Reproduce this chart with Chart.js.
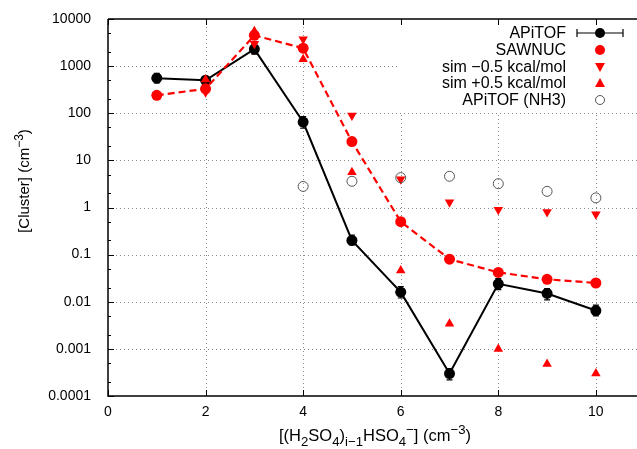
<!DOCTYPE html>
<html>
<head>
<meta charset="utf-8">
<script src="https://cdn.jsdelivr.net/npm/chart.js@4.4.0/dist/chart.umd.min.js"></script>
<style>
  html, body { margin: 0; padding: 0; background: #fff; }
  #wrap { width: 637px; height: 449px; }
</style>
</head>
<body>
<div id="wrap"><canvas id="myChart" width="637" height="449"></canvas></div>
<script>
// cluster size i
let sizes = [1, 2, 3, 4, 5, 6, 7, 8, 9, 10];
let apitof = [556, 500, 2300, 65, 0.2, 0.016, 0.0003, 0.024, 0.015, 0.0065];
let apitofLow = [440, 410, 1800, 48, 0.16, 0.012, 0.00022, 0.018, 0.011, 0.005];
let apitofHigh = [700, 610, 2900, 85, 0.26, 0.021, 0.00038, 0.031, 0.019, 0.0085];
let sawnuc = [240, 330, 4500, 2400, 25, 0.5, 0.08, 0.042, 0.030, 0.025];
let simMinus = [null, 280, 3000, 3700, 90, 4, 1.3, 0.9, 0.8, 0.72];
let simPlus = [null, 520, 5500, 1400, 5.6, 0.046, 0.0034, 0.001, 0.00048, 0.0003];
let nh3Sizes = [4, 5, 6, 7, 8, 9, 10];
let apitofNH3 = [2.8, 3.6, 4.3, 4.6, 3.2, 2.2, 1.6];
let xTicks = [0, 2, 4, 6, 8, 10];
let yTicks = [0.0001, 0.001, 0.01, 0.1, 1, 10, 100, 1000, 10000];

let pts = (xs, ys) => xs.map((x, i) => ({ x: x, y: ys[i] })).filter(p => p.y != null);

let FONT = '"Liberation Sans", Arial, sans-serif';
let legendBox = { x: 398, y: 19, w: 240, h: 92 };

// draw pieces of text with sub/superscripts, returns total width
function richText(c, parts, x, y, size, measureOnly) {
  let w = 0;
  parts.forEach(p => {
    let s = p.s ? size * 0.8 : size;
    c.font = s + 'px ' + FONT;
    let dy = p.s == 'sub' ? size * 0.3 : (p.s == 'sup' ? -size * 0.42 : 0);
    if (!measureOnly) c.fillText(p.t, x + w, y + dy);
    w += c.measureText(p.t).width;
  });
  return w;
}

let gnuplotFrame = {
  id: 'gnuplotFrame',
  beforeDatasetsDraw(chart) {
    let c = chart.ctx, a = chart.chartArea;
    let xs = chart.scales.x, ys = chart.scales.y;
    c.save();
    // dotted grid
    c.strokeStyle = '#8a8a8a';
    c.lineWidth = 1;
    c.setLineDash([1, 3]);
    xTicks.forEach(v => {
      if (v == 0) return;
      let px = Math.round(xs.getPixelForValue(v)) + 0.5;
      c.beginPath(); c.moveTo(px, a.top); c.lineTo(px, a.bottom); c.stroke();
    });
    yTicks.forEach(v => {
      if (v == yTicks[0] || v == yTicks[yTicks.length - 1]) return;
      let py = Math.round(ys.getPixelForValue(v)) + 0.5;
      c.beginPath(); c.moveTo(a.left, py); c.lineTo(637, py); c.stroke();
    });
    c.setLineDash([]);
    // key box hides grid
    c.fillStyle = '#fff';
    c.fillRect(legendBox.x, a.top + 1, legendBox.w, legendBox.h);
    // border
    c.strokeStyle = '#000';
    c.lineWidth = 1.5;
    c.beginPath();
    c.moveTo(a.left, a.top); c.lineTo(a.left, a.bottom); c.lineTo(637, a.bottom);
    c.moveTo(a.left, a.top); c.lineTo(637, a.top);
    c.stroke();
    c.lineWidth = 1;
    // tick marks
    c.beginPath();
    xTicks.forEach(v => {
      let px = Math.round(xs.getPixelForValue(v)) + 0.5;
      c.moveTo(px, a.bottom); c.lineTo(px, a.bottom - 6);
      c.moveTo(px, a.top); c.lineTo(px, a.top + 6);
    });
    yTicks.forEach((v, i) => {
      let py = Math.round(ys.getPixelForValue(v)) + 0.5;
      c.moveTo(a.left, py); c.lineTo(a.left + 6, py);
      if (i < yTicks.length - 1) {
        [2, 5].forEach(m => {
          let pm = Math.round(ys.getPixelForValue(v * m)) + 0.5;
          c.moveTo(a.left, pm); c.lineTo(a.left + 3, pm);
        });
      }
    });
    c.stroke();
    c.restore();
  },
  afterDatasetDraw(chart, args) {
    if (chart.data.datasets[args.index].label != 'APiTOF') return;
    let c = chart.ctx, xs = chart.scales.x, ys = chart.scales.y;
    c.save();
    c.strokeStyle = '#000';
    c.lineWidth = 1.2;
    c.beginPath();
    sizes.forEach((s, i) => {
      let px = xs.getPixelForValue(s);
      let y1 = ys.getPixelForValue(apitofLow[i]), y2 = ys.getPixelForValue(apitofHigh[i]);
      c.moveTo(px, y1); c.lineTo(px, y2);
      c.moveTo(px - 3, y1); c.lineTo(px + 3, y1);
      c.moveTo(px - 3, y2); c.lineTo(px + 3, y2);
    });
    c.stroke();
    c.restore();
  },
  afterDraw(chart) {
    let c = chart.ctx, a = chart.chartArea;
    c.save();
    c.fillStyle = '#000';
    // key
    let rows = ['APiTOF', 'SAWNUC', 'sim \u22120.5 kcal/mol', 'sim +0.5 kcal/mol', 'APiTOF (NH3)'];
    let ry = [33, 50, 67, 83, 100];
    c.font = '16px ' + FONT;
    c.textAlign = 'right';
    c.textBaseline = 'middle';
    rows.forEach((r, i) => c.fillText(r, 566, ry[i] + 1));
    let sx = 600;
    // APiTOF sample
    c.strokeStyle = '#000'; c.lineWidth = 1.2;
    c.beginPath();
    c.moveTo(577, ry[0]); c.lineTo(623, ry[0]);
    c.moveTo(577, ry[0] - 4); c.lineTo(577, ry[0] + 4);
    c.moveTo(623, ry[0] - 4); c.lineTo(623, ry[0] + 4);
    c.stroke();
    c.beginPath(); c.arc(sx, ry[0], 5, 0, Math.PI * 2); c.fill();
    c.fillStyle = '#ff0000';
    c.beginPath(); c.arc(sx, ry[1], 5, 0, Math.PI * 2); c.fill();
    c.beginPath(); c.moveTo(sx - 5, ry[2] - 4); c.lineTo(sx + 5, ry[2] - 4); c.lineTo(sx, ry[2] + 5); c.fill();
    c.beginPath(); c.moveTo(sx - 5, ry[3] + 4); c.lineTo(sx + 5, ry[3] + 4); c.lineTo(sx, ry[3] - 5); c.fill();
    c.strokeStyle = '#555'; c.lineWidth = 1;
    c.beginPath(); c.arc(sx, ry[4], 4.5, 0, Math.PI * 2); c.stroke();

    // axis titles
    c.fillStyle = '#000';
    c.textAlign = 'left';
    c.textBaseline = 'alphabetic';
    let xt = [
      { t: '[(H' }, { t: '2', s: 'sub' }, { t: 'SO' }, { t: '4', s: 'sub' }, { t: ')' },
      { t: 'i\u22121', s: 'sub' }, { t: 'HSO' }, { t: '4', s: 'sub' }, { t: '\u2212', s: 'sup' },
      { t: '] (cm' }, { t: '\u22123', s: 'sup' }, { t: ')' }
    ];
    let w = richText(c, xt, 0, 0, 16.5, true);
    richText(c, xt, 375 - w / 2, 441, 16.5);
    let yt = [{ t: '[Cluster] (cm' }, { t: '\u22123', s: 'sup' }, { t: ')' }];
    w = richText(c, yt, 0, 0, 15, true);
    c.translate(29, 181);
    c.rotate(-Math.PI / 2);
    richText(c, yt, -w / 2, 0, 15);
    c.restore();
  }
};

let ctx = document.getElementById('myChart');
let myChart = new Chart(ctx, {
  type: 'scatter',
  data: {
    datasets: [
      {
        label: 'APiTOF (NH3)',
        data: pts(nh3Sizes, apitofNH3),
        pointStyle: 'circle',
        pointRadius: 5,
        backgroundColor: 'rgba(0,0,0,0)',
        borderColor: '#555',
        borderWidth: 1
      },
      {
        label: 'sim +0.5 kcal/mol',
        data: pts(sizes, simPlus),
        pointStyle: 'triangle',
        pointRadius: 5.5,
        backgroundColor: '#ff0000',
        borderColor: '#ff0000',
        borderWidth: 0
      },
      {
        label: 'sim -0.5 kcal/mol',
        data: pts(sizes, simMinus),
        pointStyle: 'triangle',
        rotation: 180,
        pointRadius: 5.5,
        backgroundColor: '#ff0000',
        borderColor: '#ff0000',
        borderWidth: 0
      },
      {
        label: 'SAWNUC',
        data: pts(sizes, sawnuc),
        showLine: true,
        borderColor: '#ff0000',
        backgroundColor: '#ff0000',
        borderWidth: 2.2,
        borderDash: [7, 4],
        pointRadius: 5.5,
        pointBorderWidth: 0
      },
      {
        label: 'APiTOF',
        data: pts(sizes, apitof),
        showLine: true,
        borderColor: '#000',
        backgroundColor: '#000',
        borderWidth: 2,
        pointRadius: 5.5,
        pointBorderWidth: 0
      }
    ]
  },
  options: {
    responsive: false,
    animation: false,
    events: [],
    layout: { padding: { top: 19, right: 0, left: 0, bottom: 0 } },
    plugins: { legend: { display: false }, tooltip: { enabled: false } },
    scales: {
      x: {
        type: 'linear',
        min: 0,
        max: 10.72,
        afterBuildTicks: s => { s.ticks = xTicks.map(v => ({ value: v })); },
        afterFit: s => { s.height = 53; },
        grid: { display: false, drawTicks: false },
        border: { display: false },
        ticks: { color: '#000', padding: 8, maxRotation: 0, font: { family: FONT, size: 14 } }
      },
      y: {
        type: 'logarithmic',
        min: 0.0001,
        max: 10000,
        afterBuildTicks: s => { s.ticks = yTicks.map(v => ({ value: v })); },
        afterFit: s => { s.width = 108; s.paddingTop = 0; s.paddingBottom = 0; },
        grid: { display: false, drawTicks: false },
        border: { display: false },
        ticks: { color: '#000', padding: 17, font: { family: FONT, size: 14 }, callback: v => String(v) }
      }
    }
  },
  plugins: [gnuplotFrame]
});
</script>
</body>
</html>
